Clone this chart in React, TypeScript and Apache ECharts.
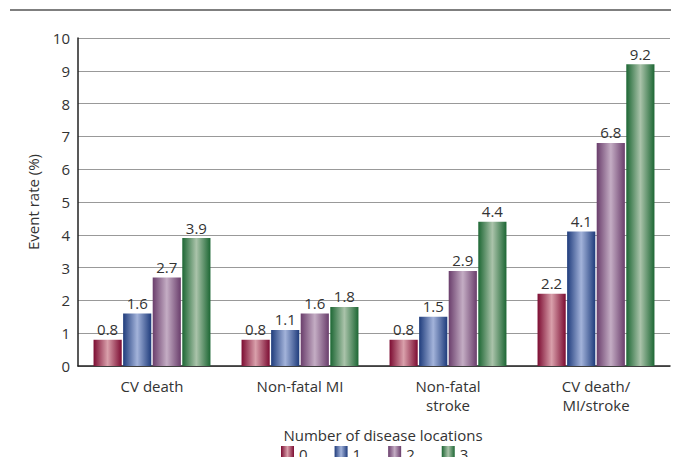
import React, { useEffect, useRef } from "react";
import * as echarts from "echarts";

const categories = ["CV death", "Non-fatal MI", "Non-fatal\nstroke", "CV death/\nMI/stroke"];
const seriesNames = ["0", "1", "2", "3"];
const loc0 = [0.8, 0.8, 0.8, 2.2];
const loc1 = [1.6, 1.1, 1.5, 4.1];
const loc2 = [2.7, 1.6, 2.9, 6.8];
const loc3 = [3.9, 1.8, 4.4, 9.2];
const seriesData = [loc0, loc1, loc2, loc3];
const palette = [
  ["#7c0c32", "#d9a0ab"],
  ["#1f3c7c", "#a3b3da"],
  ["#6a3e6c", "#c4adc4"],
  ["#1d6734", "#aac3aa"],
];

const FONT = "'Open Sans', 'Liberation Sans', sans-serif";

function grad(dark: string, light: string) {
  return new echarts.graphic.LinearGradient(0, 0, 1, 0, [
    { offset: 0, color: dark },
    { offset: 0.5, color: light },
    { offset: 1, color: dark },
  ]);
}

export default function App() {
  const ref = useRef<HTMLDivElement>(null);
  useEffect(() => {
    if (!ref.current) return;
    const chart = echarts.init(ref.current, null, { renderer: "svg" });
    chart.setOption({
      animation: false,
      textStyle: { fontFamily: FONT },
      grid: { left: 78, right: 9, top: 38, bottom: 99, containLabel: false },
      title: {
        text: "Number of disease locations",
        left: 378,
        textAlign: "center",
        top: 422,
        textStyle: { fontFamily: FONT, fontSize: 15, fontWeight: "normal", color: "#333" },
      },
      legend: {
        data: seriesNames,
        top: 444,
        left: 276,
        padding: [2, 5, 2, 5],
        itemWidth: 13,
        itemHeight: 15,
        itemGap: 27,
        icon: "rect",
        textStyle: { fontFamily: FONT, fontSize: 15, color: "#333" },
      },
      graphic: [
        {
          type: "line",
          shape: { x1: 10, y1: 10, x2: 679, y2: 10 },
          style: { stroke: "#555", lineWidth: 1.5 },
        },
      ],
      xAxis: {
        type: "category",
        data: categories,
        axisLine: { lineStyle: { color: "#222", width: 1.5 } },
        axisTick: { show: false },
        axisLabel: { fontFamily: FONT, fontSize: 15, color: "#333", margin: 10, lineHeight: 19 },
      },
      yAxis: {
        type: "value",
        min: 0,
        max: 10,
        interval: 1,
        name: "Event rate (%)",
        nameLocation: "middle",
        nameGap: 38,
        nameTextStyle: { fontFamily: FONT, fontSize: 15, color: "#333" },
        axisLine: { show: true, lineStyle: { color: "#222", width: 1.5 } },
        axisTick: { show: false },
        axisLabel: { fontFamily: FONT, fontSize: 15, color: "#333", margin: 8 },
        splitLine: { lineStyle: { color: "#999", width: 1.2 } },
      },
      series: seriesData.map((d, i) => ({
        name: seriesNames[i],
        type: "bar",
        data: d,
        barGap: "5%",
        barCategoryGap: "21%",
        itemStyle: { color: grad(palette[i][0], palette[i][1]) },
        label: {
          show: true,
          position: "top",
          distance: 3,
          fontFamily: FONT,
          fontSize: 15,
          color: "#333",
        },
      })),
    });
    return () => chart.dispose();
  }, []);
  return <div ref={ref} style={{ width: 679, height: 465, margin: -8 }} />;
}
